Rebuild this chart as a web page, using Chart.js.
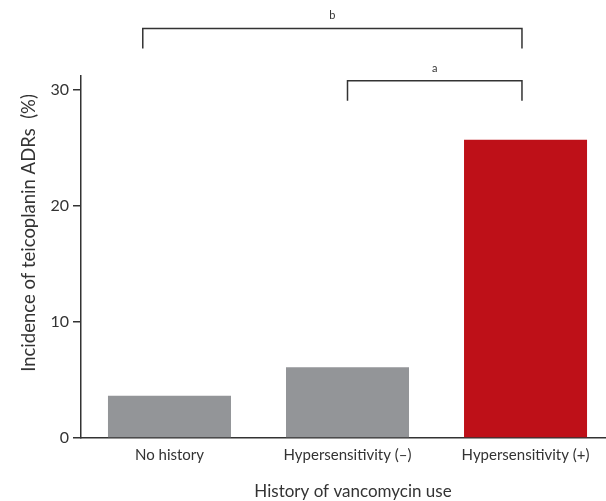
<!DOCTYPE html>
<html>
<head>
<meta charset="utf-8">
<script src="https://cdn.jsdelivr.net/npm/chart.js@4"></script>
<style>
  html, body { margin: 0; padding: 0; background: #fff; overflow: hidden; }
  #wrap { width: 606px; height: 501px; }
</style>
</head>
<body>
<div id="wrap"><canvas id="myChart" width="606" height="501"></canvas></div>
<script>
const categories = ["No history", "Hypersensitivity (\u2013)", "Hypersensitivity (+)"];
const incidence = [3.65, 6.1, 25.7];
const barColors = ["#939598", "#939598", "#be1018"];
const yTicks = [0, 10, 20, 30];

// significance brackets (category index from / to, y value of the bar line)
const bracketLabel = ["b", "a"];
const bracketFrom = [-0.15, 1];
const bracketTo = [1.98, 1.98];
const bracketLevel = [35.3, 30.8];

const xTitle = "History of vancomycin use";
const yTitle = "Incidence of teicoplanin ADRs  (%)";

const ink = "#333333";

const bracketPlugin = {
  id: "brackets",
  afterDraw(chart) {
    const ctx = chart.ctx;
    const x = chart.scales.x;
    const y = chart.scales.y;
    ctx.save();
    ctx.strokeStyle = ink;
    ctx.lineWidth = 1.5;
    ctx.fillStyle = ink;
    ctx.font = "11px Lato";
    ctx.textAlign = "center";
    ctx.textBaseline = "bottom";
    bracketLabel.forEach((lab, i) => {
      const x1 = x.getPixelForValue(bracketFrom[i]);
      const x2 = x.getPixelForValue(bracketTo[i]);
      const yy = y.getPixelForValue(bracketLevel[i]);
      ctx.beginPath();
      ctx.moveTo(x1, yy + 20);
      ctx.lineTo(x1, yy);
      ctx.lineTo(x2, yy);
      ctx.lineTo(x2, yy + 20);
      ctx.stroke();
      ctx.fillText(lab, (x1 + x2) / 2, yy - 7);
    });

    // axis titles
    ctx.textBaseline = "middle";
    ctx.font = "17px Lato";
    ctx.fillText(xTitle, 353, 492);
    ctx.translate(29, 233);
    ctx.rotate(-Math.PI / 2);
    ctx.font = "18.5px Lato";
    ctx.fillText(yTitle, 0, 0);
    ctx.restore();
  },
};

const myChart = document.getElementById("myChart").getContext("2d");

new Chart(myChart, {
  type: "bar",
  data: {
    datasets: [
      {
        data: incidence.map((v, i) => ({ x: i, y: v })),
        backgroundColor: barColors,
        borderWidth: 0,
        categoryPercentage: 1,
        barPercentage: 0.691,
      },
    ],
  },
  options: {
    responsive: false,
    animation: false,
    layout: { padding: { top: 76, right: 0, left: 0, bottom: 0 } },
    plugins: {
      legend: { display: false },
      tooltip: { enabled: false },
    },
    scales: {
      x: {
        type: "linear",
        offset: false,
        bounds: "data",
        min: -0.497,
        max: 2.452,
        afterBuildTicks: (s) => {
          s.ticks = categories.map((c, i) => ({ value: i }));
        },
        grid: { display: false, drawTicks: false, offset: false },
        border: { display: true, color: ink, width: 1.5 },
        ticks: {
          color: ink,
          padding: 8,
          maxRotation: 0,
          autoSkip: false,
          callback: (v) => categories[v],
          font: { family: "Lato", size: 15 },
        },
        afterFit: (s) => {
          s.height = 63;
        },
      },
      y: {
        min: 0,
        max: 31.2,
        afterBuildTicks: (s) => {
          s.ticks = yTicks.map((v) => ({ value: v }));
        },
        grid: {
          drawOnChartArea: false,
          drawTicks: true,
          tickLength: 8,
          color: ink,
          lineWidth: 1.5,
        },
        border: { display: true, color: ink, width: 1.5 },
        ticks: {
          color: ink,
          padding: 4,
          font: { family: "Lato", size: 16 },
        },
        afterFit: (s) => {
          s.width = 81;
        },
      },
    },
  },
  plugins: [bracketPlugin],
});
</script>
</body>
</html>
